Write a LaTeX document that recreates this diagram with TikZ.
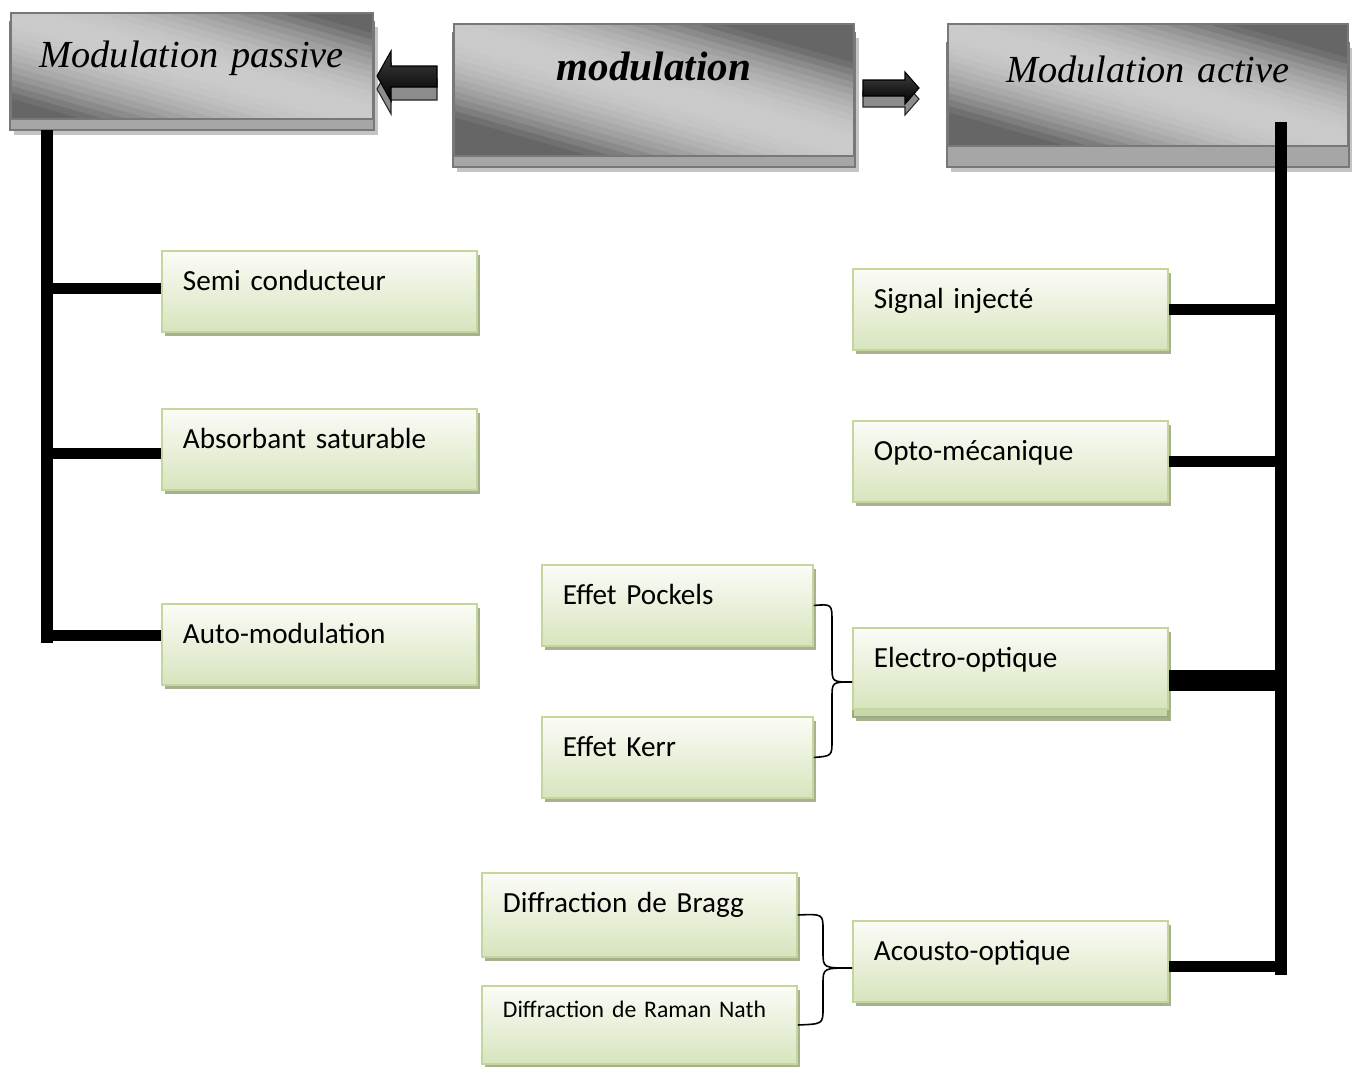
\documentclass[tikz,border=0pt]{standalone}
\usepackage{fontspec}
\setmainfont{Liberation Serif}
\newfontfamily\carlito{Carlito}
\definecolor{gborder}{HTML}{C3D69B}
\definecolor{gshadow}{HTML}{A8B08F}
\definecolor{gtop}{HTML}{FBFCF7}
\definecolor{gbot}{HTML}{D7E4BD}
\definecolor{gband}{HTML}{C9D8AC}
\definecolor{gbandline}{HTML}{9CAE78}
\definecolor{tdark}{HTML}{666666}
\definecolor{tlight}{HTML}{CBCBCB}
\definecolor{tborder}{HTML}{787878}
\definecolor{tband}{HTML}{A6A6A6}
\definecolor{tshadow}{HTML}{C4C4C4}
\definecolor{arrback}{HTML}{8C8C8C}
\pgfdeclarelayer{bg}
\pgfsetlayers{bg,main}
% decoration of a grey title box: shadow, lower band, diagonal gradient
\newcommand\mytitledeco[3]{%
  \begin{pgfonlayer}{bg}
    \fill[tshadow] ([shift={(0.08cm,-#3)}]#1.north west) rectangle ([shift={(0.08cm,-#3)}]#1.south east);
    \filldraw[fill=tband, draw=tborder, line width=1pt] ([yshift=-#2]#1.north west) rectangle ([yshift=-#2]#1.south east);
    \fill[tlight] (#1.north west) rectangle (#1.south east);
    \begin{scope}
      \clip (#1.north west) rectangle (#1.south east);
      \foreach \ti in {0,...,47} {
        \pgfmathsetmacro\tva{-3+\ti*0.125}
        \pgfmathsetmacro\tvb{\tva+0.14}
        \pgfmathsetmacro\tpct{max(0,100*(1-(abs(\tva+0.0625)/1.65)^2))}
        \pgfmathsetmacro\tya{(\tva+1.24)/0.9613}
        \pgfmathsetmacro\tyb{(\tva-1.24)/0.9613}
        \pgfmathsetmacro\tyc{(\tvb-1.24)/0.9613}
        \pgfmathsetmacro\tyd{(\tvb+1.24)/0.9613}
        \fill[tlight!\tpct!tdark] ([shift={(-4.5cm,\tya cm)}]#1.center) -- ([shift={(4.5cm,\tyb cm)}]#1.center)
          -- ([shift={(4.5cm,\tyc cm)}]#1.center) -- ([shift={(-4.5cm,\tyd cm)}]#1.center) -- cycle;
      }
    \end{scope}
  \end{pgfonlayer}}
\begin{document}
\begin{tikzpicture}[x=0.02cm,y=-0.02cm,
  titlebox/.style={rectangle, anchor=north west, inner sep=0pt, align=center,
    draw=tborder, line width=1pt},
  titlefont/.style={font=\fontsize{21.8}{26}\selectfont\itshape},
  gbox/.style={rectangle, anchor=north west, inner xsep=0.42cm, inner ysep=0pt, align=left,
    draw=gborder, line width=1.1pt, top color=gtop, bottom color=gbot,
    font=\carlito\fontsize{16.6}{20}\selectfont, text height=0.8cm,
    preaction={fill=gshadow, draw=none, transform canvas={shift={(0.06cm,-0.08cm)}}}},
  wide/.style={minimum width=6.3cm, text width=5.46cm},
  narrow/.style={minimum width=5.42cm, text width=4.58cm},
  eobox/.style={gbox,
    preaction={fill=gshadow, draw=none, transform canvas={shift={(0.06cm,-0.24cm)}}},
    preaction={fill=gband, draw=gbandline, line width=0.8pt, transform canvas={yshift=-0.16cm}}},
  trunk/.style={line width=0.23cm, line cap=butt, black},
  branch/.style={line width=0.22cm, line cap=butt, black},
  brace/.style={line width=0.9pt, black},
  arrfront/.style={draw=black, line width=0.6pt, top color=black!75, middle color=black!45, bottom color=black},
  arrbackst/.style={fill=arrback, draw=black!85, line width=0.6pt}
]
\useasboundingbox (0,0) rectangle (1352,1066);

% title boxes
\node[titlebox, minimum width=7.24cm, text width=7.24cm,
      text height=1.10cm, text depth=1.02cm, titlefont] (passive) at (10,12) {Modulation passive};
\node[titlebox, minimum width=8.0cm, text width=8.0cm,
      text height=1.14cm, text depth=1.50cm,
      font=\fontsize{23.4}{28}\selectfont\bfseries\itshape] (modulation) at (453,23) {modulation};
\node[titlebox, minimum width=8.0cm, text width=8.0cm,
      text height=1.18cm, text depth=1.26cm, titlefont] (active) at (947,23) {Modulation active};
\mytitledeco{passive}{0.2cm}{0.3cm}
\mytitledeco{modulation}{0.2cm}{0.3cm}
\mytitledeco{active}{0.4cm}{0.5cm}

% block arrows
\filldraw[arrbackst] (377,89) -- (391,64) -- (391,79) -- (437,79) -- (437,100) -- (391,100) -- (391,114) -- cycle;
\shadedraw[arrfront] (377,76) -- (391,51) -- (391,66) -- (437,66) -- (437,87) -- (391,87) -- (391,101) -- cycle;
\filldraw[arrbackst] (863,91) -- (905,91) -- (905,83) -- (919,99) -- (905,115) -- (905,107) -- (863,107) -- cycle;
\shadedraw[arrfront] (863,80) -- (905,80) -- (905,72) -- (919,88) -- (905,104) -- (905,96) -- (863,96) -- cycle;

% left column
\node[gbox, wide, text depth=0.82cm] (sc) at (161,250) {Semi conducteur};
\node[gbox, wide, text depth=0.82cm] (as) at (161,408) {Absorbant saturable};
\node[gbox, wide, text depth=0.82cm] (am) at (161,603) {Auto-modulation};

% right column
\node[gbox, wide, text depth=0.82cm] (si) at (852,268) {Signal injecté};
\node[gbox, wide, text depth=0.82cm] (om) at (852,420) {Opto-mécanique};
\node[eobox, wide, text depth=0.82cm] (eo) at (852,627) {Electro-optique};
\node[gbox, wide, text depth=0.82cm] (ao) at (852,920) {Acousto-optique};

% middle column
\node[gbox, narrow, text depth=0.82cm] (ep) at (541,564) {Effet Pockels};
\node[gbox, narrow, text depth=0.82cm] (ek) at (541,716) {Effet Kerr};
\node[gbox, wide, text depth=0.88cm] (db) at (481,872) {Diffraction de Bragg};
\node[gbox, wide, text height=0.64cm, text depth=0.92cm,
      font=\carlito\fontsize{13.5}{16}\selectfont] (dr) at (481,985) {Diffraction de Raman Nath};

% left trunk and branches
\coordinate (lt) at (47,130);
\coordinate (lb) at (47,643);
\coordinate (lsc) at (47,288);
\coordinate (las) at (47,453);
\coordinate (lam) at (47,635);
\draw[trunk] (lt) -- (lb);
\draw[branch] (lsc) -- (sc.west |- lsc);
\draw[branch] (las) -- (as.west |- las);
\draw[branch] (lam) -- (am.west |- lam);

% right trunk and branches
\coordinate (rt) at (1281,122);
\coordinate (rb) at (1281,975);
\coordinate (rsi) at (1281,309);
\coordinate (rom) at (1281,461);
\coordinate (reo) at (1281,680);
\coordinate (rao) at (1281,966);
\draw[trunk] (rt) -- (rb);
\draw[branch] (si.east |- rsi) -- (rsi);
\draw[branch] (om.east |- rom) -- (rom);
\draw[branch, line width=0.42cm] (eo.east |- reo) -- (reo);
\draw[branch] (ao.east |- rao) -- (rao);

% braces
\coordinate (eotip) at (852,682);
\coordinate (aotip) at (852,968);
\draw[brace] (ep.east) .. controls (832,604) .. (832,622) -- (832,666) .. controls (832,682) .. (eotip);
\draw[brace] (eotip) .. controls (832,682) .. (832,698) -- (832,740) .. controls (832,756) .. (ek.east);
\draw[brace] (db.east) .. controls (823,914) .. (823,930) -- (823,952) .. controls (823,968) .. (aotip);
\draw[brace] (aotip) .. controls (823,968) .. (823,984) -- (823,1008) .. controls (823,1024) .. (dr.east);
\end{tikzpicture}
\end{document}
